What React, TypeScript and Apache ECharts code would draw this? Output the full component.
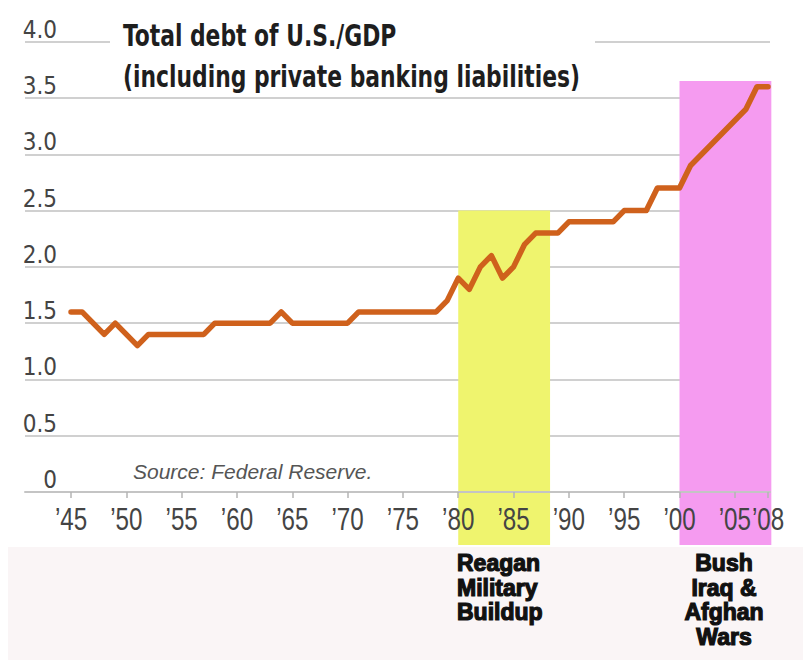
import React, { useEffect, useRef } from 'react';
import * as echarts from 'echarts';

const years = [
  1945, 1946, 1947, 1948, 1949, 1950, 1951, 1952, 1953, 1954,
  1955, 1956, 1957, 1958, 1959, 1960, 1961, 1962, 1963, 1964,
  1965, 1966, 1967, 1968, 1969, 1970, 1971, 1972, 1973, 1974,
  1975, 1976, 1977, 1978, 1979, 1980, 1981, 1982, 1983, 1984,
  1985, 1986, 1987, 1988, 1989, 1990, 1991, 1992, 1993, 1994,
  1995, 1996, 1997, 1998, 1999, 2000, 2001, 2002, 2003, 2004,
  2005, 2006, 2007, 2008,
];
const debtToGdp = [
  1.6, 1.6, 1.5, 1.4, 1.5, 1.4, 1.3, 1.4, 1.4, 1.4,
  1.4, 1.4, 1.4, 1.5, 1.5, 1.5, 1.5, 1.5, 1.5, 1.6,
  1.5, 1.5, 1.5, 1.5, 1.5, 1.5, 1.6, 1.6, 1.6, 1.6,
  1.6, 1.6, 1.6, 1.6, 1.7, 1.9, 1.8, 2.0, 2.1, 1.9,
  2.0, 2.2, 2.3, 2.3, 2.3, 2.4, 2.4, 2.4, 2.4, 2.4,
  2.5, 2.5, 2.5, 2.7, 2.7, 2.7, 2.9, 3.0, 3.1, 3.2,
  3.3, 3.4, 3.6, 3.6,
];
const xTickYears = [1945, 1950, 1955, 1960, 1965, 1970, 1975, 1980, 1985, 1990, 1995, 2000, 2005, 2008];
const periodStart = [1980, 2000];
const periodEnd = [1988.3, 2008.3];
const periodTop = [2.5, 3.65];
const periodColors = ['#eff46e', '#f59bf0'];
const titleLines = ['Total debt of U.S./GDP', '(including private banking liabilities)'];
const sourceNote = 'Source: Federal Reserve.';
const reaganLines = ['Reagan', 'Military', 'Buildup'];
const bushLines = ['Bush', 'Iraq &', 'Afghan', 'Wars'];

const NARROW = '"DejaVu Sans Condensed", "Liberation Sans Narrow", "Liberation Sans", sans-serif';
const SANS = '"Liberation Sans", Arial, "DejaVu Sans", sans-serif';

const yearLabel = (v: number) => '\u2019' + String(v).slice(2);

export default function App() {
  const ref = useRef<HTMLDivElement>(null);

  useEffect(() => {
    if (!ref.current) return;
    const chart = echarts.init(ref.current, null, { renderer: 'svg' });

    const graphics: any[] = [
      { type: 'rect', z: -10, silent: true, shape: { x: 8, y: 547, width: 795, height: 113 }, style: { fill: '#faf5f6' } },
      { type: 'rect', z: 50, silent: true, shape: { x: 110, y: 37, width: 485, height: 9 }, style: { fill: '#ffffff' } },
    ];
    titleLines.forEach((t, i) => {
      graphics.push({
        type: 'text', z: 60, x: 123, y: 36 + i * 41, scaleX: 0.81,
        style: { text: t, fill: '#1e1e1e', fontFamily: NARROW, fontWeight: 'bold', fontSize: 30, align: 'left', textAlign: 'left', verticalAlign: 'middle', textVerticalAlign: 'middle' },
      });
    });
    graphics.push({
      type: 'text', z: 60, x: 133, y: 471,
      style: { text: sourceNote, fill: '#555555', fontFamily: SANS, fontStyle: 'italic', fontSize: 21, align: 'left', textAlign: 'left', verticalAlign: 'middle', textVerticalAlign: 'middle' },
    });
    reaganLines.forEach((t, i) => {
      graphics.push({
        type: 'text', z: 60, x: 457, y: 563 + i * 24.7,
        style: { text: t, fill: '#111111', fontFamily: SANS, fontWeight: 'bold', fontSize: 23, align: 'left', textAlign: 'left', verticalAlign: 'middle', textVerticalAlign: 'middle', stroke: '#111111', lineWidth: 1.2 },
      });
    });
    bushLines.forEach((t, i) => {
      graphics.push({
        type: 'text', z: 60, x: 724, y: 563 + i * 24.7,
        style: { text: t, fill: '#111111', fontFamily: SANS, fontWeight: 'bold', fontSize: 23, align: 'center', textAlign: 'center', verticalAlign: 'middle', textVerticalAlign: 'middle', stroke: '#111111', lineWidth: 1.2 },
      });
    });

    const option: any = {
      animation: false,
      backgroundColor: '#ffffff',
      grid: { left: 25, right: 33, top: 41.7, bottom: 168, containLabel: false, outerBoundsMode: 'none' },
      xAxis: {
        type: 'value',
        z: 10,
        min: 1940.84,
        max: 2008.18,
        splitLine: { show: false },
        axisLine: { show: true, onZero: false, lineStyle: { color: '#c4c4c4', width: 2 } },
        axisTick: { show: true, length: 6, customValues: xTickYears, lineStyle: { color: '#b4b4b4', width: 1.5 } },
        axisLabel: { show: false, customValues: xTickYears, formatter: yearLabel },
      },
      yAxis: {
        type: 'value',
        z: 0,
        min: 0,
        max: 4,
        interval: 0.5,
        axisLine: { show: false },
        axisTick: { show: false },
        splitLine: { show: true, lineStyle: { color: '#d0d0d0', width: 2 } },
        axisLabel: {
          inside: true,
          margin: 32,
          align: 'right',
          verticalAlign: 'bottom',
          color: '#444444',
          fontFamily: NARROW,
          fontSize: 24,
          formatter: (v: number) => (v === 0 ? '0' : v.toFixed(1)),
        },
      },
      series: [
        {
          type: 'custom',
          z: 2,
          silent: true,
          clip: false,
          data: periodStart.map((s, i) => [s, periodEnd[i], periodTop[i], i]),
          encode: { x: [0, 1], y: 2 },
          renderItem: (params: any, api: any) => {
            const p0 = api.coord([api.value(0), api.value(2)]);
            const p1 = api.coord([api.value(1), 0]);
            const bottom = p1[1] + 53;
            return {
              type: 'rect',
              shape: { x: p0[0], y: p0[1], width: p1[0] - p0[0], height: bottom - p0[1] },
              style: { fill: periodColors[api.value(3)] },
            };
          },
        },
        {
          type: 'line',
          z: 5,
          data: years.map((y, i) => [y, debtToGdp[i]]),
          showSymbol: false,
          symbol: 'none',
          lineStyle: { color: '#cf611c', width: 5.5, cap: 'round', join: 'round' },
        },
      ],
      graphic: graphics,
    };

    chart.setOption(option);

    // x-axis tick labels, placed through the axis scale, drawn condensed like the original
    const labelGraphics = xTickYears.map((yr) => {
      const p = chart.convertToPixel({ gridIndex: 0 }, [yr, 0]) as number[];
      return {
        type: 'text', z: 60, x: p[0], y: p[1] + 27, scaleX: 0.78,
        style: { text: yearLabel(yr), fill: '#444444', fontFamily: SANS, fontSize: 31, align: 'center', textAlign: 'center', verticalAlign: 'middle', textVerticalAlign: 'middle' },
      };
    });
    chart.setOption({ graphic: [...graphics, ...labelGraphics] });

    return () => chart.dispose();
  }, []);

  return (
    <div
      ref={ref}
      style={{ position: 'absolute', left: 0, top: 0, width: 803, height: 660, background: '#ffffff' }}
    />
  );
}
